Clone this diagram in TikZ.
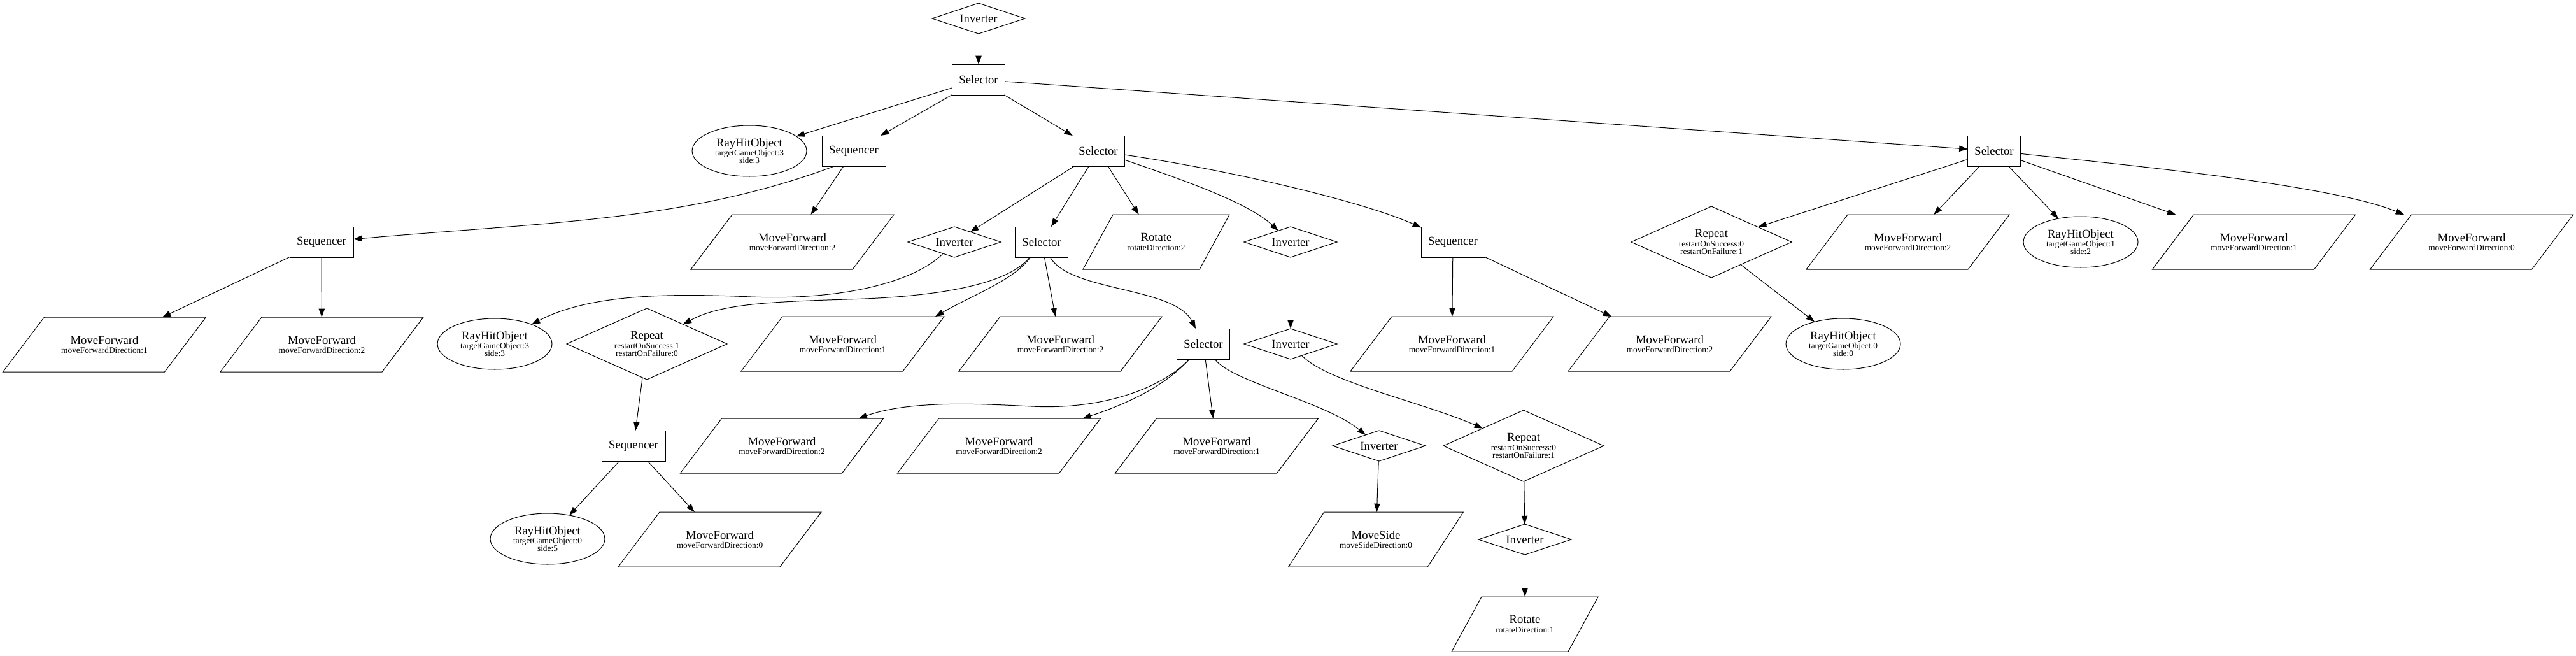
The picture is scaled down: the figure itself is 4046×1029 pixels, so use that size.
\documentclass[tikz,border=0pt]{standalone}
\usepackage{fontspec}
\setmainfont{Liberation Serif}
\usetikzlibrary{shapes.geometric,arrows.meta,calc}
\newcommand{\subl}[1]{{\fontsize{10}{10}\selectfont #1}}
\begin{document}
\lineskiplimit=-10pt
\begin{tikzpicture}[x=0.75pt,y=-0.75pt,
  every node/.style={font=\fontsize{14}{10.9}\selectfont, inner sep=0pt, outer sep=0pt, align=center},
  boxn/.style={draw, line width=0.7pt, rectangle, minimum width=62.25pt, minimum height=36pt},
  seqn/.style={boxn, minimum width=75pt},
  invn/.style={draw, line width=0.75pt, diamond, aspect=3, minimum width=109.5pt, minimum height=36pt},
  repn/.style={draw, line width=0.75pt, diamond, aspect=2.25, minimum width=189pt, minimum height=84pt},
  rayn/.style={draw, line width=0.75pt, ellipse, minimum width=135pt, minimum height=60pt},
  mfn/.style={rectangle, minimum width=239.25pt, minimum height=64.5pt},
  rotn/.style={mfn, minimum width=172.5pt},
  msn/.style={mfn, minimum width=206pt},
  shapeline/.style={line width=0.75pt, line join=miter},
  conn/.style={-{Triangle[length=10pt,width=7pt]}, line width=0.75pt}
]
\fill[white] (0,0) rectangle (4046,1029);
\useasboundingbox (0,0) rectangle (4046,1029);

% level 0-1
\node[invn] (inv0) at (1537,29) {Inverter};
\node[boxn] (sel0) at (1537,125) {Selector};
\node[rayn] (ray3) at (1177,237) {RayHitObject\\\subl{targetGameObject:3}\\[-2pt]\subl{side:3}};
\node[seqn] (seq1) at (1341,237) {Sequencer};
\node[boxn] (sel1) at (1725,237) {Selector};
\node[boxn] (sel2) at (3132,237) {Selector};

% level 2
\node[seqn] (seq2) at (505,380) {Sequencer};
\node[mfn] (mfa) at (1244.5,380) {MoveForward\\\subl{moveForwardDirection:2}};
\node[invn] (inv1) at (1499,380) {Inverter};
\node[boxn] (sel3) at (1636,380) {Selector};
\node[rotn] (rot2) at (1816,380) {Rotate\\\subl{rotateDirection:2}};
\node[invn] (inv2) at (2027,380) {Inverter};
\node[seqn] (seq3) at (2282,380) {Sequencer};
\node[repn] (rep3) at (2688,380) {Repeat\\\subl{restartOnSuccess:0}\\[-2pt]\subl{restartOnFailure:1}};
\node[mfn] (mfr2) at (2996.5,380) {MoveForward\\\subl{moveForwardDirection:2}};
\node[rayn] (ray1) at (3268,380) {RayHitObject\\\subl{targetGameObject:1}\\[-2pt]\subl{side:2}};
\node[mfn] (mfr1) at (3540,380) {MoveForward\\\subl{moveForwardDirection:1}};
\node[mfn] (mfr0) at (3882,380) {MoveForward\\\subl{moveForwardDirection:0}};

% level 3
\node[mfn] (mf1) at (164,541) {MoveForward\\\subl{moveForwardDirection:1}};
\node[mfn] (mf2) at (505.5,541) {MoveForward\\\subl{moveForwardDirection:2}};
\node[rayn] (ray3b) at (777,540) {RayHitObject\\\subl{targetGameObject:3}\\[-2pt]\subl{side:3}};
\node[repn] (rep1) at (1016,540) {Repeat\\\subl{restartOnSuccess:1}\\[-2pt]\subl{restartOnFailure:0}};
\node[mfn] (mfc1) at (1323.5,540) {MoveForward\\\subl{moveForwardDirection:1}};
\node[mfn] (mfc2) at (1665.5,540) {MoveForward\\\subl{moveForwardDirection:2}};
\node[boxn] (sel4) at (1890,540) {Selector};
\node[invn] (inv3) at (2027,540) {Inverter};
\node[mfn] (mfs1) at (2280.5,540) {MoveForward\\\subl{moveForwardDirection:1}};
\node[mfn] (mfs2) at (2622.5,540) {MoveForward\\\subl{moveForwardDirection:2}};
\node[rayn] (ray0) at (2895,540) {RayHitObject\\\subl{targetGameObject:0}\\[-2pt]\subl{side:0}};

% level 4
\node[seqn] (seq4) at (995,700) {Sequencer};
\node[mfn] (mfd2) at (1228,700) {MoveForward\\\subl{moveForwardDirection:2}};
\node[mfn] (mfd2b) at (1569,700) {MoveForward\\\subl{moveForwardDirection:2}};
\node[mfn] (mfd1) at (1911,700) {MoveForward\\\subl{moveForwardDirection:1}};
\node[invn] (inv4) at (2166,700) {Inverter};
\node[repn] (rep2) at (2393,700) {Repeat\\\subl{restartOnSuccess:0}\\[-2pt]\subl{restartOnFailure:1}};

% level 5-6
\node[rayn] (ray0b) at (860,846) {RayHitObject\\\subl{targetGameObject:0}\\[-2pt]\subl{side:5}};
\node[mfn] (mfe0) at (1130.5,847) {MoveForward\\\subl{moveForwardDirection:0}};
\node[msn] (mside) at (2161,847) {MoveSide\\\subl{moveSideDirection:0}};
\node[invn] (inv5) at (2395,847) {Inverter};
\node[rotn] (rot1) at (2395,980) {Rotate\\\subl{rotateDirection:1}};

% parallelogram outlines
\foreach \n in {mfa,mfr2,mfr1,mfr0,mf1,mf2,mfc1,mfc2,mfs1,mfs2,mfd2,mfd2b,mfd1,mfe0}
  \draw[shapeline] (\n.south west) -- ([xshift=-48.75pt]\n.south east) -- (\n.north east) -- ([xshift=48.75pt]\n.north west) -- cycle;
\foreach \n in {rot2,rot1}
  \draw[shapeline] (\n.south west) -- ([xshift=-35.25pt]\n.south east) -- (\n.north east) -- ([xshift=35.25pt]\n.north west) -- cycle;
\draw[shapeline] (mside.south west) -- ([xshift=-42pt]mside.south east) -- (mside.north east) -- ([xshift=42pt]mside.north west) -- cycle;

% connectors
\draw[conn] (inv0) -- (sel0);
\draw[conn] (sel0) -- (ray3);
\draw[conn] (sel0) -- (seq1);
\draw[conn] (sel0) -- (sel1);
\draw[conn] (sel0) -- (sel2);
\draw[conn] (seq1.218) .. controls (1076,348) and (855,349) .. (seq2);
\draw[conn] (seq1) -- (mfa);
\draw[conn] (seq2) -- (mf1);
\draw[conn] (seq2) -- (mf2);
\draw[conn] (sel1) -- (inv1);
\draw[conn] (sel1) -- (sel3);
\draw[conn] (sel1) -- (rot2);
\draw[conn] (sel1) .. controls (1860,283) and (1960,318) .. (inv2);
\draw[conn] (sel1) .. controls (1950,270) and (2150,320) .. (seq3);
\draw[conn] (inv1) .. controls (1440,440) and (1330,472) .. (1180,466) .. controls (1080,462) and (934,457) .. (ray3b);
\draw[conn] (sel3) .. controls (1585,445) and (1480,466) .. (1330,470) .. controls (1200,474) and (1130,478) .. (rep1);
\draw[conn] (sel3) .. controls (1592,440) and (1530,462) .. ([xshift=-10.5pt]mfc1.north east);
\draw[conn] (sel3) -- (mfc2);
\draw[conn] (sel3) .. controls (1680,458) and (1845,450) .. (sel4);
\draw[conn] (inv2) -- (inv3);
\draw[conn] (seq3) -- (mfs1);
\draw[conn] (seq3) -- (mfs2);
\draw[conn] (sel2) -- (rep3);
\draw[conn] (sel2) -- (mfr2);
\draw[conn] (sel2) -- (ray1);
\draw[conn] (sel2) -- (mfr1);
\draw[conn] (sel2) .. controls (3350,260) and (3660,290) .. (mfr0);
\draw[conn] (rep3) -- (ray0);
\draw[conn] (rep1) -- (seq4);
\draw[conn] (seq4) -- (ray0b);
\draw[conn] (seq4) -- (mfe0);
\draw[conn] (sel4) .. controls (1830,605) and (1740,644) .. (1620,638) .. controls (1540,634) and (1430,628) .. (mfd2);
\draw[conn] (sel4) .. controls (1840,595) and (1792,627) .. (mfd2b);
\draw[conn] (sel4) -- (mfd1);
\draw[conn] (sel4) .. controls (1935,600) and (2080,630) .. (inv4);
\draw[conn] (inv3) .. controls (2085,600) and (2230,630) .. (rep2);
\draw[conn] (rep2) -- (inv5);
\draw[conn] (inv5) -- (rot1);
\draw[conn] (inv4) -- (mside);
\end{tikzpicture}
\end{document}
